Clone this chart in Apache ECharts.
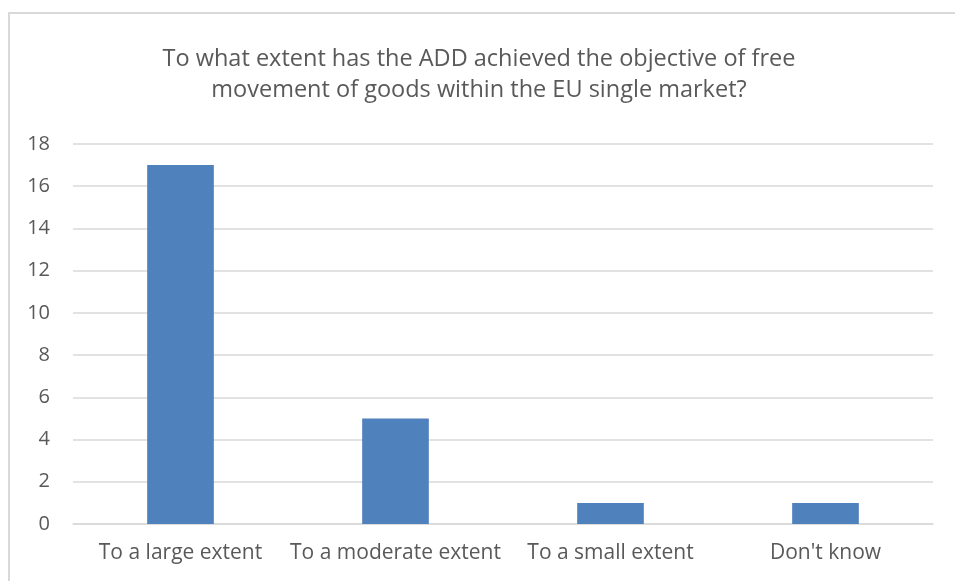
<!DOCTYPE html>
<html>
<head>
<meta charset="utf-8">
<script src="https://cdn.jsdelivr.net/npm/echarts@6/dist/echarts.min.js"></script>
<style>
html,body{margin:0;padding:0;background:#fff;}
#frame{position:absolute;left:8px;top:12px;width:960px;height:600px;border:2px solid #d9d9d9;box-sizing:border-box;}
#c{position:absolute;left:0;top:0;width:955px;height:581px;}
</style>
</head>
<body>
<div id="frame"></div>
<div id="c"></div>
<script>
const titleText = "To what extent has the ADD achieved the objective of free\nmovement of goods within the EU single market?";
const categories = ["To a large extent", "To a moderate extent", "To a small extent", "Don't know"];
const values = [17, 5, 1, 1];
const yTicks = {min: 0, max: 18, interval: 2};

const chart = echarts.init(document.getElementById('c'), null, {renderer: 'canvas'});
chart.setOption({
  animation: false,
  title: {
    text: titleText,
    left: 474, top: 39, textAlign: 'center',
    textStyle: {fontFamily: 'Open Sans', fontSize: 23.5, fontWeight: 'normal', color: '#595959', lineHeight: 31}
  },
  grid: {left: 73, right: 22, top: 144, bottom: 57, containLabel: false},
  xAxis: {
    type: 'category', data: categories,
    axisLine: {lineStyle: {color: '#d9d9d9', width: 1.5}},
    axisTick: {show: false},
    axisLabel: {fontFamily: 'Open Sans', fontSize: 21, color: '#595959', margin: 19, interval: 0}
  },
  yAxis: {
    type: 'value', min: yTicks.min, max: yTicks.max, interval: yTicks.interval,
    axisLine: {show: false}, axisTick: {show: false},
    splitLine: {lineStyle: {color: '#d9d9d9', width: 1.5}},
    axisLabel: {fontFamily: 'Open Sans', fontSize: 20, color: '#595959', margin: 23, align: 'right'}
  },
  series: [{
    type: 'bar', data: values, barWidth: '31%',
    itemStyle: {color: '#4f81bd'}
  }]
});
</script>
</body>
</html>
